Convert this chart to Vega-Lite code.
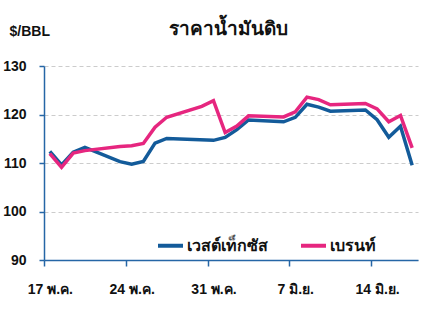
{
  "$schema": "https://vega.github.io/schema/vega-lite/v6.json",
  "width": 374,
  "height": 194,
  "autosize": {"type": "none"},
  "padding": {"left": 44, "top": 66, "right": 12, "bottom": 52},
  "background": "white",
  "title": {
    "text": "ราคาน้ำมันดิบ",
    "fontSize": 19,
    "font": "Noto Sans",
    "fontWeight": "bold",
    "color": "#111111",
    "anchor": "middle",
    "frame": "group",
    "dx": -3,
    "offset": -15
  },
  "data": {
    "values": [
      {"date": "2022-05-17", "series": "เวสต์เท็กซัส", "price": 112.40},
      {"date": "2022-05-18", "series": "เวสต์เท็กซัส", "price": 109.59},
      {"date": "2022-05-19", "series": "เวสต์เท็กซัส", "price": 112.21},
      {"date": "2022-05-20", "series": "เวสต์เท็กซัส", "price": 113.23},
      {"date": "2022-05-23", "series": "เวสต์เท็กซัส", "price": 110.29},
      {"date": "2022-05-24", "series": "เวสต์เท็กซัส", "price": 109.77},
      {"date": "2022-05-25", "series": "เวสต์เท็กซัส", "price": 110.33},
      {"date": "2022-05-26", "series": "เวสต์เท็กซัส", "price": 114.09},
      {"date": "2022-05-27", "series": "เวสต์เท็กซัส", "price": 115.07},
      {"date": "2022-05-31", "series": "เวสต์เท็กซัส", "price": 114.67},
      {"date": "2022-06-01", "series": "เวสต์เท็กซัส", "price": 115.26},
      {"date": "2022-06-02", "series": "เวสต์เท็กซัส", "price": 116.87},
      {"date": "2022-06-03", "series": "เวสต์เท็กซัส", "price": 118.87},
      {"date": "2022-06-06", "series": "เวสต์เท็กซัส", "price": 118.50},
      {"date": "2022-06-07", "series": "เวสต์เท็กซัส", "price": 119.41},
      {"date": "2022-06-08", "series": "เวสต์เท็กซัส", "price": 122.11},
      {"date": "2022-06-09", "series": "เวสต์เท็กซัส", "price": 121.51},
      {"date": "2022-06-10", "series": "เวสต์เท็กซัส", "price": 120.67},
      {"date": "2022-06-13", "series": "เวสต์เท็กซัส", "price": 120.93},
      {"date": "2022-06-14", "series": "เวสต์เท็กซัส", "price": 118.93},
      {"date": "2022-06-15", "series": "เวสต์เท็กซัส", "price": 115.31},
      {"date": "2022-06-16", "series": "เวสต์เท็กซัส", "price": 117.59},
      {"date": "2022-06-17", "series": "เวสต์เท็กซัส", "price": 109.56},
      {"date": "2022-05-17", "series": "เบรนท์", "price": 111.93},
      {"date": "2022-05-18", "series": "เบรนท์", "price": 109.11},
      {"date": "2022-05-19", "series": "เบรนท์", "price": 112.04},
      {"date": "2022-05-20", "series": "เบรนท์", "price": 112.55},
      {"date": "2022-05-23", "series": "เบรนท์", "price": 113.42},
      {"date": "2022-05-24", "series": "เบรนท์", "price": 113.56},
      {"date": "2022-05-25", "series": "เบรนท์", "price": 114.03},
      {"date": "2022-05-26", "series": "เบรนท์", "price": 117.40},
      {"date": "2022-05-27", "series": "เบรนท์", "price": 119.43},
      {"date": "2022-05-30", "series": "เบรนท์", "price": 121.67},
      {"date": "2022-05-31", "series": "เบรนท์", "price": 122.84},
      {"date": "2022-06-01", "series": "เบรนท์", "price": 116.29},
      {"date": "2022-06-02", "series": "เบรนท์", "price": 117.61},
      {"date": "2022-06-03", "series": "เบรนท์", "price": 119.72},
      {"date": "2022-06-06", "series": "เบรนท์", "price": 119.51},
      {"date": "2022-06-07", "series": "เบรนท์", "price": 120.57},
      {"date": "2022-06-08", "series": "เบรนท์", "price": 123.58},
      {"date": "2022-06-09", "series": "เบรนท์", "price": 123.07},
      {"date": "2022-06-10", "series": "เบรนท์", "price": 122.01},
      {"date": "2022-06-13", "series": "เบรนท์", "price": 122.27},
      {"date": "2022-06-14", "series": "เบรนท์", "price": 121.17},
      {"date": "2022-06-15", "series": "เบรนท์", "price": 118.51},
      {"date": "2022-06-16", "series": "เบรนท์", "price": 119.81},
      {"date": "2022-06-17", "series": "เบรนท์", "price": 113.12}
    ]
  },
  "mark": {"type": "line", "strokeWidth": 3.5},
  "encoding": {
    "x": {
      "field": "date",
      "type": "temporal",
      "scale": {
        "type": "utc",
        "domain": [
          {"year": 2022, "month": 5, "date": 16, "hours": 12, "utc": true},
          {"year": 2022, "month": 6, "date": 17, "hours": 12, "utc": true}
        ]
      },
      "axis": {
        "title": null,
        "grid": false,
        "values": [
          {"year": 2022, "month": 5, "date": 17, "utc": true},
          {"year": 2022, "month": 5, "date": 24, "utc": true},
          {"year": 2022, "month": 5, "date": 31, "utc": true},
          {"year": 2022, "month": 6, "date": 7, "utc": true},
          {"year": 2022, "month": 6, "date": 14, "utc": true}
        ],
        "labelExpr": "utcdate(datum.value) + (utcmonth(datum.value) == 4 ? ' พ.ค.' : ' มิ.ย.')",
        "tickOffset": -5.85,
        "labelOffset": 5.85,
        "tickSize": 6,
        "tickWidth": 1.5,
        "tickColor": "#2566a6",
        "domainColor": "#2566a6",
        "domainWidth": 1.5,
        "labelFont": "Liberation Sans",
        "labelFontSize": 14,
        "labelFontWeight": "bold",
        "labelColor": "#111111",
        "labelPadding": 16,
        "labelFlush": false,
        "labelOverlap": false
      }
    },
    "y": {
      "field": "price",
      "type": "quantitative",
      "scale": {"domain": [90, 130], "nice": false, "zero": false},
      "axis": {
        "title": "$/BBL",
        "titleAngle": 0,
        "titleX": -35,
        "titleY": -31,
        "titleAlign": "left",
        "titleBaseline": "alphabetic",
        "titleFont": "Liberation Sans",
        "titleFontSize": 14,
        "titleFontWeight": "bold",
        "titleColor": "#111111",
        "values": [90, 100, 110, 120, 130],
        "tickSize": 5,
        "tickWidth": 1.5,
        "tickColor": "#2566a6",
        "domainColor": "#2566a6",
        "domainWidth": 1.5,
        "grid": true,
        "gridColor": "#cccccc",
        "gridDash": [4, 3],
        "gridWidth": 1,
        "labelFont": "Liberation Sans",
        "labelFontSize": 14,
        "labelFontWeight": "bold",
        "labelColor": "#111111",
        "labelPadding": 13
      }
    },
    "color": {
      "field": "series",
      "type": "nominal",
      "scale": {"domain": ["เวสต์เท็กซัส", "เบรนท์"], "range": ["#135b9a", "#e6267f"]},
      "legend": {
        "title": null,
        "orient": "none",
        "legendX": 112,
        "legendY": 165,
        "direction": "horizontal",
        "symbolType": "stroke",
        "symbolSize": 625,
        "symbolStrokeWidth": 4,
        "labelFont": "Noto Sans",
        "labelFontSize": 16,
        "labelFontWeight": "bold",
        "labelColor": "#111111",
        "labelOffset": 2,
        "columnPadding": 25
      }
    }
  },
  "config": {"view": {"stroke": null}}
}
